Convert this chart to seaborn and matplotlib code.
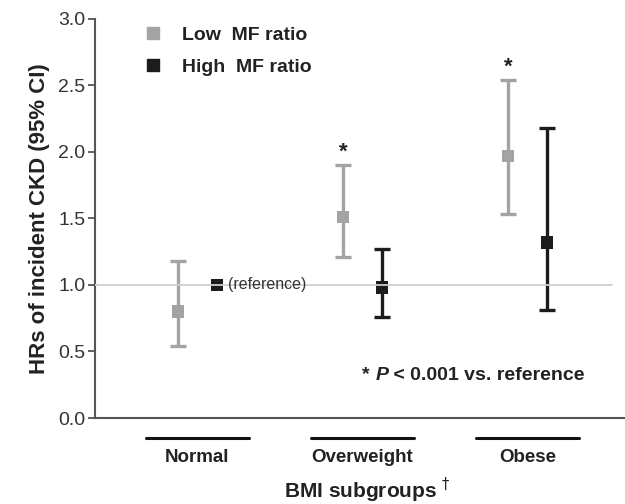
import numpy as np
import pandas as pd
import matplotlib.pyplot as plt
import seaborn as sns
from matplotlib.lines import Line2D

# data
groups = ["Normal", "Overweight", "Obese"]
series = ["Low  MF ratio", "High  MF ratio"]
low_hr = [0.80, 1.51, 1.97]
low_lo = [0.54, 1.21, 1.53]
low_hi = [1.18, 1.90, 2.54]
high_hr = [1.00, 0.98, 1.32]
high_lo = [1.00, 0.76, 0.81]
high_hi = [1.00, 1.27, 2.18]
signif_low = [False, True, True]
yticks = [0.0, 0.5, 1.0, 1.5, 2.0, 2.5, 3.0]

colors = {"Low  MF ratio": "#a3a3a3", "High  MF ratio": "#1c1c1c"}
offset = 0.118

rows = []
for i, g in enumerate(groups):
    rows.append({"group": g, "series": series[0], "x": i - offset,
                 "hr": low_hr[i], "lo": low_lo[i], "hi": low_hi[i]})
    rows.append({"group": g, "series": series[1], "x": i + offset,
                 "hr": high_hr[i], "lo": high_lo[i], "hi": high_hi[i]})
df = pd.DataFrame(rows)

sns.set_style("ticks")
plt.rcParams["font.family"] = ["Liberation Sans", "DejaVu Sans"]

fig = plt.figure(figsize=(6.25, 5.04), dpi=100)
ax = fig.add_axes([0.152, 0.1706, 0.848, 0.792])

# reference line at HR = 1 (drawn over the markers, as in the original)
ax.axhline(1.0, xmin=0, xmax=0.975, color="#cfcfcf", lw=1.3, zorder=2.9)

# confidence intervals
for _, r in df.iterrows():
    if r["hi"] > r["lo"]:
        ax.errorbar(r["x"], r["hr"], yerr=[[r["hr"] - r["lo"]], [r["hi"] - r["hr"]]],
                    fmt="none", ecolor=colors[r["series"]], elinewidth=2.4,
                    capsize=6, capthick=2.4, zorder=2)

sns.scatterplot(data=df, x="x", y="hr", hue="series", palette=colors,
                marker="s", s=80, edgecolor="none", legend=False, ax=ax, zorder=2.5)

# significance stars
for i, g in enumerate(groups):
    if signif_low[i]:
        ax.text(i - offset, low_hi[i] + 0.02, "*", ha="center", va="bottom",
                fontsize=16, fontweight="bold", color="#222222")

ax.text(0 + offset + 0.065, 1.0, "(reference)", ha="left", va="center",
        fontsize=11.5, color="#333333")

# p-value note
t1 = ax.text(1.0, 0.32, "* ", ha="left", va="center", fontsize=14,
             fontweight="bold", color="#222222")
t2 = ax.annotate("P", xy=(1, 0), xycoords=t1, ha="left", va="bottom",
                 fontsize=14, fontweight="bold", style="italic", color="#222222")
ax.annotate(" < 0.001 vs. reference", xy=(1, 0), xycoords=t2, ha="left",
            va="bottom", fontsize=14, fontweight="bold", color="#222222")

# group bars and labels below the axis
for i, g in enumerate(groups):
    ax.plot([i - 0.31, i + 0.31], [-0.15, -0.15], color="#111111", lw=2.2,
            clip_on=False)
    ax.text(i, -0.30, g, ha="center", va="center", fontsize=13.5,
            fontweight="bold", color="#222222")

ax.text(1.03, -0.545, r"BMI subgroups $^{\dagger}$", ha="center", va="center",
        fontsize=15, fontweight="bold", color="#222222")

# legend
handles = [Line2D([], [], marker="s", ls="none", color=colors[s], markersize=8)
           for s in series]
leg = ax.legend(handles, series, loc="upper left", bbox_to_anchor=(0.04, 1.025),
                frameon=False, handletextpad=0.5, labelspacing=0.75, fontsize=14)
for t in leg.get_texts():
    t.set_fontweight("bold")
    t.set_color("#222222")

ax.set_xlim(-0.62, 2.59)
ax.set_ylim(0, 3.0)
ax.set_yticks(yticks)
ax.set_yticklabels([f"{v:.1f}" for v in yticks], fontsize=14)
ax.set_xticks([])
ax.set_xlabel("")
ax.set_ylabel("HRs of incident CKD (95% CI)", fontsize=16, fontweight="bold",
              color="#222222", labelpad=6)
ax.tick_params(axis="y", length=5, width=1.3, color="#555555", labelcolor="#333333",
               pad=2)
sns.despine(ax=ax)
for sp in ["left", "bottom"]:
    ax.spines[sp].set_color("#555555")
    ax.spines[sp].set_linewidth(1.5)

fig.savefig("out.png", dpi=100)
